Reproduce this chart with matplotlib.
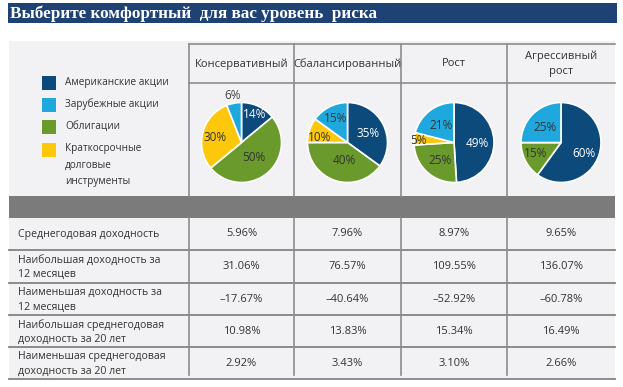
#!/usr/bin/env python3
# -*- coding: utf-8 -*-
"""Risk profile infographic: allocation pies plus a returns table."""
import sys
import numpy as np
import matplotlib
matplotlib.use("Agg")
import matplotlib.pyplot as plt
from matplotlib.patches import Rectangle

title = "Выберите комфортный  для вас уровень  риска"

assets = ["Американские акции", "Зарубежные акции", "Облигации",
          "Краткосрочные\nдолговые\nинструменты"]
portfolios = ["Консервативный", "Сбалансированный", "Рост", "Агрессивный\nрост"]

# shares in legend order: US stocks, foreign stocks, bonds, short-term debt
us_stocks = [14, 35, 49, 60]
foreign_stocks = [6, 15, 21, 25]
bonds = [50, 40, 25, 15]
short_term = [30, 10, 5, 0]

row_labels = ["Среднегодовая доходность",
              "Наибольшая доходность за\n12 месяцев",
              "Наименьшая доходность за\n12 месяцев",
              "Наибольшая среднегодовая\nдоходность за 20 лет",
              "Наименьшая среднегодовая\nдоходность за 20 лет"]
avg_return = ["5.96%", "7.96%", "8.97%", "9.65%"]
best_12m = ["31.06%", "76.57%", "109.55%", "136.07%"]
worst_12m = ["\u201317.67%", "\u201340.64%", "\u201352.92%", "\u201360.78%"]
best_20y = ["10.98%", "13.83%", "15.34%", "16.49%"]
worst_20y = ["2.92%", "3.43%", "3.10%", "2.66%"]

NAVY = "#0d4a7c"
LBLUE = "#1fa8dd"
GREEN = "#6a9a2b"
YELLOW = "#fdc70c"
asset_colors = [NAVY, LBLUE, GREEN, YELLOW]
TXT = "#333333"
LINE = "#8c8c8c"

W, H = 623, 387
FONT = "Open Sans"

# label radial distance (fraction of radius) per wedge, drawing order:
# us, bonds, short-term, foreign (clockwise from 12 o'clock)
label_dist = [[0.78, 0.5, 0.67, 1.2],
              [0.56, 0.46, 0.7, 0.67],
              [0.58, 0.57, 0.9, 0.54],
              [0.64, 0.7, 0.0, 0.55]]
label_shift = [[0, 0, -3, 0],
               [3, -7, -8, 1],
               [4, -3, -2, 0],
               [7, 4, 0, -2]]


def main():
    fig = plt.figure(figsize=(W / 100, H / 100), dpi=100)
    ax = fig.add_axes([0, 0, 1, 1])
    ax.set_xlim(0, W)
    ax.set_ylim(H, 0)
    ax.axis("off")

    # title bar
    ax.add_patch(Rectangle((8, 3), 609, 20, color="#1e4273", lw=0))
    ax.text(10, 13.5, title, color="white", fontsize=12.3, fontweight="bold",
            family="Liberation Serif", va="center", ha="left")

    # panel background
    ax.add_patch(Rectangle((9, 41), 606, 339, color="#f2f2f4", lw=0))
    ax.add_patch(Rectangle((9, 196), 606, 22, color="#7b7b7b", lw=0))

    col_edges = [189, 294, 401, 507, 615]
    col_centers = [(a + b) / 2 for a, b in zip(col_edges[:-1], col_edges[1:])]

    # header grid
    ax.plot([189, 615], [44, 44], color=LINE, lw=1.2)
    ax.plot([189, 615], [83, 83], color=LINE, lw=1.2)
    for x in col_edges[:-1]:
        ax.plot([x, x], [44, 196], color=LINE, lw=1.2)
    for cx, name in zip(col_centers, portfolios):
        ax.text(cx, 64, name, ha="center", va="center", fontsize=8,
                family=FONT, color=TXT, linespacing=1.5)

    # legend
    leg_y = [83, 105, 127]
    for i, (lab, c) in enumerate(zip(assets, asset_colors)):
        y = leg_y[i] if i < 3 else 150
        ax.add_patch(Rectangle((42, y - 7 if i < 3 else 143), 14, 14,
                               color=c, lw=0))
        ax.text(65, y - 1 if i < 3 else 143, lab,
                ha="left", va="center" if i < 3 else "top",
                fontsize=7.2, family=FONT, color=TXT, linespacing=1.7)

    # table
    row_lines = [218, 250, 283, 315, 347, 379]
    for y in row_lines[1:]:
        ax.plot([9, 615], [y, y], color=LINE, lw=1.4)
    for x in col_edges[:-1]:
        ax.plot([x, x], [218, 375], color=LINE, lw=1.2)
    rows = [avg_return, best_12m, worst_12m, best_20y, worst_20y]
    for i, (lab, vals) in enumerate(zip(row_labels, rows)):
        yc = (row_lines[i] + row_lines[i + 1]) / 2 + 1
        ax.text(18, yc, lab, ha="left", va="center", fontsize=7.6,
                family=FONT, color=TXT, linespacing=1.45)
        for cx, v in zip(col_centers, vals):
            ax.text(cx, yc - 1, v, ha="center", va="center", fontsize=8,
                    family=FONT, color=TXT)

    # pies
    R = 40
    cy = 142.5
    for j, cx in enumerate(col_centers):
        pax = fig.add_axes([(cx - 50) / W, 1 - (cy + 50) / H, 100 / W, 100 / H])
        vals = [us_stocks[j], bonds[j], short_term[j], foreign_stocks[j]]
        cols = [NAVY, GREEN, YELLOW, LBLUE]
        pax.pie(vals, colors=cols, startangle=90, counterclock=False,
                wedgeprops=dict(edgecolor="white", linewidth=1.2))
        lim = 50 / R
        pax.set_xlim(-lim, lim)
        pax.set_ylim(-lim, lim)
        pax.set_aspect("equal")
        pax.axis("off")
        start = 0.0
        for k, v in enumerate(vals):
            if v == 0:
                continue
            mid = np.deg2rad(start + v * 3.6 / 2 + label_shift[j][k])
            start += v * 3.6
            d = label_dist[j][k]
            tc = "white" if cols[k] == NAVY else TXT
            if d > 1:
                tc = "#444444"
            pax.text(d * np.sin(mid), d * np.cos(mid), f"{v}%", ha="center",
                     va="center", fontsize=8.5, family=FONT, color=tc)

    fig.savefig("out.png", dpi=100)
    return 0


if __name__ == "__main__":
    sys.exit(main())
